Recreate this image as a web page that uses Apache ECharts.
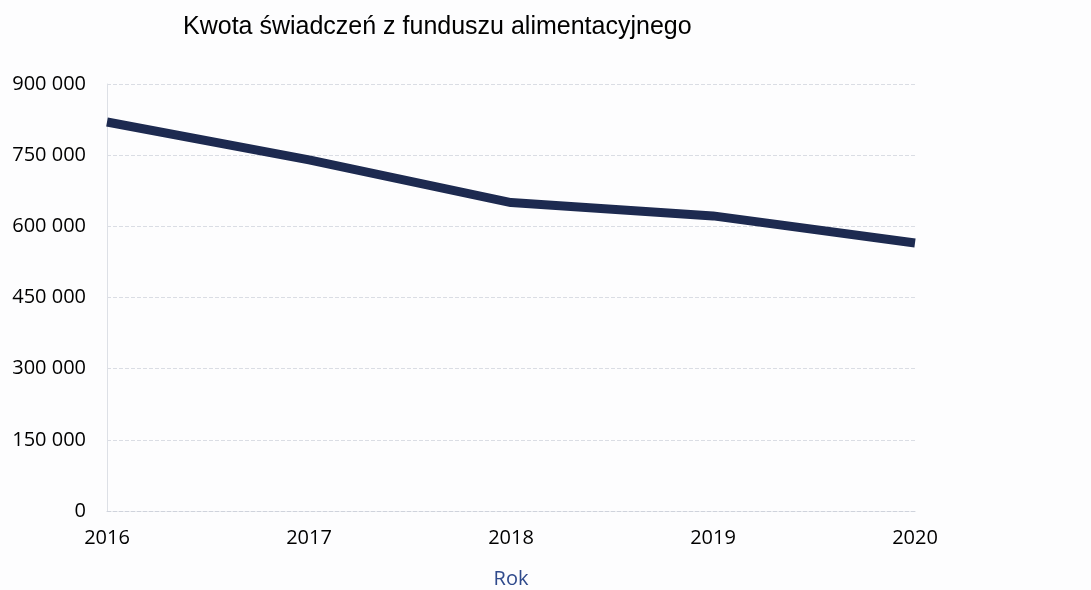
<!DOCTYPE html>
<html>
<head>
<meta charset="utf-8">
<script src="https://cdn.jsdelivr.net/npm/echarts@6/dist/echarts.min.js"></script>
<style>
  html, body { margin: 0; padding: 0; background: #fdfdfe; }
  #chart { width: 1091px; height: 590px; }
</style>
</head>
<body>
<div id="chart"></div>
<script>
// Years on the horizontal axis
const years = ['2016', '2017', '2018', '2019', '2020'];
// Amount of benefits paid from the maintenance fund (PLN)
const amounts = [820000, 740000, 650000, 622000, 565000];
// Vertical axis ticks
const yTicks = [0, 150000, 300000, 450000, 600000, 750000, 900000];

const fmt = v => String(v).replace(/\B(?=(\d{3})+(?!\d))/g, ' ');

const chart = echarts.init(document.getElementById('chart'), null, { renderer: 'canvas' });
chart.setOption({
  backgroundColor: '#fdfdfe',
  animation: false,
  title: {
    text: 'Kwota świadczeń z funduszu alimentacyjnego',
    left: 178,
    top: 10,
    textStyle: { fontFamily: 'Liberation Sans, Arial, sans-serif', fontSize: 25, fontWeight: 'normal', color: '#000' }
  },
  grid: { left: 107, right: 176, top: 84, bottom: 79, containLabel: false, outerBoundsMode: 'none' },
  xAxis: {
    type: 'category',
    data: years,
    boundaryGap: false,
    name: 'Rok',
    nameLocation: 'middle',
    nameGap: 58,
    nameTextStyle: { fontFamily: 'Open Sans, sans-serif', fontSize: 20, color: '#2f4a8c' },
    axisLine: { show: true, lineStyle: { color: '#cfd3dc', width: 1, type: 'dashed' } },
    axisTick: { show: false },
    axisLabel: { margin: 17, fontFamily: 'Open Sans, sans-serif', fontSize: 20, color: '#000' },
    splitLine: { show: false }
  },
  yAxis: {
    type: 'value',
    min: yTicks[0],
    max: yTicks[yTicks.length - 1],
    interval: yTicks[1] - yTicks[0],
    axisLine: { show: true, lineStyle: { color: '#dde0e6', width: 1 } },
    axisTick: { show: false },
    axisLabel: { margin: 21, fontFamily: 'Open Sans, sans-serif', fontSize: 20, color: '#000', formatter: fmt },
    splitLine: { show: true, lineStyle: { color: '#dadde4', width: 1, type: 'dashed' } }
  },
  series: [{
    type: 'line',
    data: amounts,
    symbol: 'none',
    lineStyle: { color: '#1d2a50', width: 9, cap: 'butt', join: 'round' }
  }]
});
</script>
</body>
</html>
